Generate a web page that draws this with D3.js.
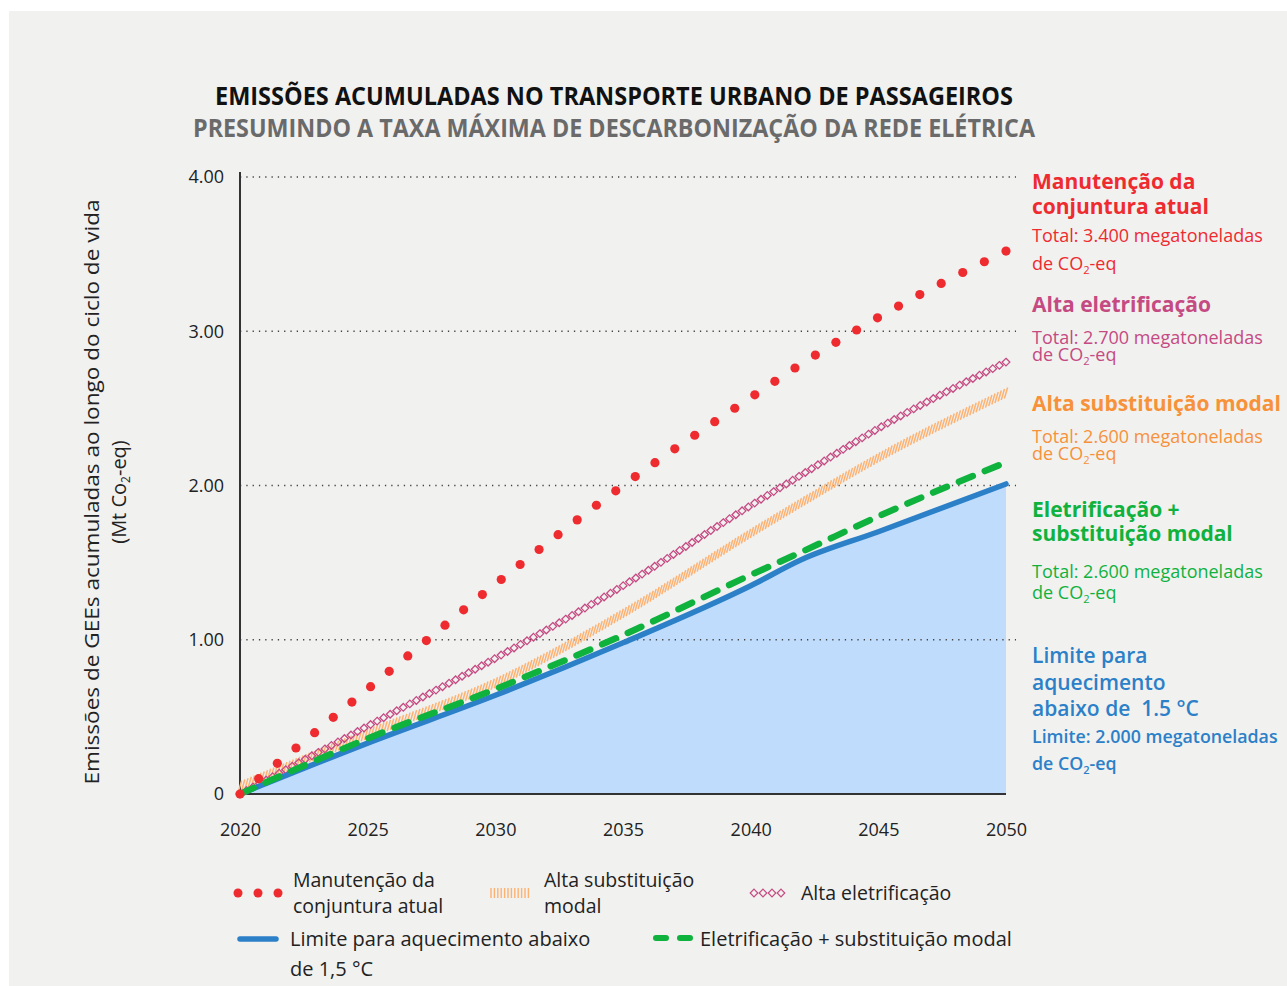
<!DOCTYPE html>
<html>
<head>
<meta charset="utf-8">
<script src="https://cdn.jsdelivr.net/npm/d3@7"></script>
<style>
    body { margin: 0; background: #fff; }
    svg { display: block; }
    text { font-family: "Open Sans", sans-serif; }
</style>
</head>
<body>
<svg width="1287" height="986"></svg>
<script>
"use strict";
// values (Mt CO2-eq, cumulative)
var years = [2020, 2025, 2030, 2035, 2040, 2042, 2045, 2050];
var manutencao = [0, 0.68, 1.36, 2.00, 2.57, 2.79, 3.09, 3.52];
var altaEletrificacao = [0, 0.44, 0.88, 1.35, 1.87, 2.07, 2.37, 2.80];
var altaSubstituicao = [0.05, 0.39, 0.72, 1.17, 1.69, 1.89, 2.18, 2.60];
var eletrSubst = [0, 0.36, 0.68, 1.03, 1.42, 1.57, 1.80, 2.15];
var limite = [0, 0.33, 0.64, 0.98, 1.35, 1.52, 1.70, 2.01];
var yTicks = [0, 1, 2, 3, 4];
var xTicks = [2020, 2025, 2030, 2035, 2040, 2045, 2050];

var red = "#ee2b2f", pink = "#c54a82", orange = "#f7923a", orangeLine = "#fdb272",
    green = "#10b23e", blue = "#2b80c8", areaFill = "#bfdcfc", ink = "#222";

var svg = d3.select("svg");

svg.append("rect").attr("x", 9).attr("y", 11).attr("width", 1278).attr("height", 975)
    .attr("fill", "#f1f1f0");

var x = d3.scaleLinear().domain([2020, 2050]).range([240, 1006]),
    y = d3.scaleLinear().domain([0, 4]).range([794, 177]);

function series(vals) {
    return years.map(function (yr, i) { return { year: yr, v: vals[i] }; });
}
var line = d3.line()
    .x(function (d) { return x(d.year); })
    .y(function (d) { return y(d.v); })
    .curve(d3.curveMonotoneX);
var area = d3.area()
    .x(function (d) { return x(d.year); })
    .y0(y(0))
    .y1(function (d) { return y(d.v); })
    .curve(d3.curveMonotoneX);

// titles
svg.append("text").attr("x", 614).attr("y", 105).attr("text-anchor", "middle")
    .attr("font-family", "Roboto").attr("font-weight", 700).attr("font-size", 25)
    .attr("textLength", 798).attr("lengthAdjust", "spacingAndGlyphs").attr("fill", "#111")
    .text("EMISSÕES ACUMULADAS NO TRANSPORTE URBANO DE PASSAGEIROS");
svg.append("text").attr("x", 614).attr("y", 137).attr("text-anchor", "middle")
    .attr("font-family", "Roboto").attr("font-weight", 700).attr("font-size", 25)
    .attr("textLength", 842).attr("lengthAdjust", "spacingAndGlyphs").attr("fill", "#6a6a6a")
    .text("PRESUMINDO A TAXA MÁXIMA DE DESCARBONIZAÇÃO DA REDE ELÉTRICA");

// blue area under limit
svg.append("path").datum(series(limite)).attr("d", area).attr("fill", areaFill);

// grid
svg.append("g").selectAll("line").data(yTicks.filter(function (d) { return d > 0; }))
    .enter().append("line")
    .attr("x1", 240).attr("x2", 1016)
    .attr("y1", function (d) { return y(d); }).attr("y2", function (d) { return y(d); })
    .attr("stroke", "#444").attr("stroke-width", 1.5).attr("stroke-dasharray", "1.3 5");

// axes
var yAxis = svg.append("g").attr("transform", "translate(240,0)")
    .call(d3.axisLeft(y).tickValues(yTicks).tickSize(0).tickPadding(16)
        .tickFormat(function (d) { return d === 0 ? "0" : d.toFixed(2); }));
yAxis.select(".domain").remove();
yAxis.selectAll("text").attr("font-family", "Open Sans").attr("font-size", 18).attr("fill", ink);

var xAxis = svg.append("g").attr("transform", "translate(0,794)")
    .call(d3.axisBottom(x).tickValues(xTicks).tickSize(0).tickPadding(29).tickFormat(d3.format("d")));
xAxis.select(".domain").remove();
xAxis.selectAll("text").attr("font-family", "Open Sans").attr("font-size", 18)
    .attr("font-weight", 500).attr("fill", ink);

svg.append("line").attr("x1", 240).attr("x2", 240).attr("y1", 172).attr("y2", 795)
    .attr("stroke", "#333").attr("stroke-width", 2);
svg.append("line").attr("x1", 239).attr("x2", 1006).attr("y1", 794).attr("y2", 794)
    .attr("stroke", "#333").attr("stroke-width", 2);

// hidden guide paths used to place the patterned marks
function guide(vals) {
    return svg.append("path").datum(series(vals)).attr("d", line)
        .attr("fill", "none").attr("stroke", "none");
}
function samplePath(p, step) {
    var node = p.node(), len = node.getTotalLength(), pts = [];
    var n = Math.round(len / step), s = len / n;
    for (var i = 0; i <= n; i++) pts.push(node.getPointAtLength(i * s));
    return pts;
}

// orange hatch (Alta substituição modal)
var orangePts = samplePath(guide(altaSubstituicao), 3.5);
svg.append("g").selectAll("line").data(orangePts).enter().append("line")
    .attr("x1", function (d) { return d.x + 1.6; }).attr("y1", function (d) { return d.y - 5.5; })
    .attr("x2", function (d) { return d.x - 1.6; }).attr("y2", function (d) { return d.y + 5.5; })
    .attr("stroke", orangeLine).attr("stroke-width", 1.5);

// pink diamonds (Alta eletrificação)
var diamond = "M0,-3.8L3.8,0L0,3.8L-3.8,0Z";
var pinkPts = samplePath(guide(altaEletrificacao), 7.4);
svg.append("g").selectAll("path").data(pinkPts).enter().append("path")
    .attr("d", diamond)
    .attr("transform", function (d) { return "translate(" + d.x + "," + d.y + ")"; })
    .attr("fill", "none").attr("stroke", pink).attr("stroke-width", 1.3);

// blue limit line
svg.append("path").datum(series(limite)).attr("d", line)
    .attr("fill", "none").attr("stroke", blue).attr("stroke-width", 5.5)
    .attr("stroke-linecap", "round");

// green dashed
svg.append("path").datum(series(eletrSubst)).attr("d", line)
    .attr("fill", "none").attr("stroke", green).attr("stroke-width", 6.5)
    .attr("stroke-dasharray", "15 13").attr("stroke-linecap", "round");

// red dotted: one dot at each end, even spacing between
var redPts = samplePath(guide(manutencao), 24.3);
svg.append("g").selectAll("circle").data(redPts).enter().append("circle")
    .attr("cx", function (d) { return d.x; }).attr("cy", function (d) { return d.y; })
    .attr("r", 4.6).attr("fill", red);

// y axis title
var yt = svg.append("g").attr("transform", "translate(0,492)");
yt.append("text").attr("transform", "translate(99,0) rotate(-90)").attr("text-anchor", "middle")
    .attr("font-size", 20).attr("fill", ink)
    .attr("textLength", 585).attr("lengthAdjust", "spacingAndGlyphs")
    .text("Emissões de GEEs acumuladas ao longo do ciclo de vida");
var yt2 = yt.append("text").attr("transform", "translate(126,0) rotate(-90)").attr("text-anchor", "middle")
    .attr("font-size", 20).attr("fill", ink);
yt2.append("tspan").text("(Mt Co");
yt2.append("tspan").attr("font-size", 12).attr("dy", 4).text("2");
yt2.append("tspan").attr("dy", -4).text("-eq)");

// right-hand annotations
function label(xp, yp, txt, color, size, weight) {
    return svg.append("text").attr("x", xp).attr("y", yp).attr("fill", color)
        .attr("font-size", size).attr("font-weight", weight).text(txt);
}
function coLabel(xp, yp, color, size, weight) {
    var t = svg.append("text").attr("x", xp).attr("y", yp).attr("fill", color)
        .attr("font-size", size).attr("font-weight", weight);
    t.append("tspan").text("de CO");
    t.append("tspan").attr("font-size", size * 0.62).attr("dy", 4).text("2");
    t.append("tspan").attr("dy", -4).text("-eq");
}
var ax = 1032;
label(ax, 189, "Manutenção da", red, 21, 700);
label(ax, 214, "conjuntura atual", red, 21, 700);
label(ax, 242, "Total: 3.400 megatoneladas", red, 18, 400);
coLabel(ax, 270, red, 18, 400);

label(ax, 312, "Alta eletrificação", pink, 21, 700);
label(ax, 344, "Total: 2.700 megatoneladas", pink, 18, 400);
coLabel(ax, 361, pink, 18, 400);

label(ax, 411, "Alta substituição modal", orange, 21, 700);
label(ax, 443, "Total: 2.600 megatoneladas", orange, 18, 400);
coLabel(ax, 460, orange, 18, 400);

label(ax, 517, "Eletrificação +", green, 21, 700);
label(ax, 541, "substituição modal", green, 21, 700);
label(ax, 578, "Total: 2.600 megatoneladas", green, 18, 400);
coLabel(ax, 599, green, 18, 400);

label(ax, 663, "Limite para", blue, 21, 600);
label(ax, 690, "aquecimento", blue, 21, 600);
label(ax, 716, "abaixo de  1.5 °C", blue, 21, 600).style("white-space", "pre");
label(ax, 743, "Limite: 2.000 megatoneladas", blue, 17.8, 600);
coLabel(ax, 770, blue, 17.8, 600);

// legend
var lg = svg.append("g");
lg.selectAll("circle").data([238, 258, 278]).enter().append("circle")
    .attr("cx", function (d) { return d; }).attr("cy", 893).attr("r", 4.5).attr("fill", red);
label(293, 887, "Manutenção da", ink, 19.5, 400);
label(293, 913, "conjuntura atual", ink, 19.5, 400);

lg.selectAll("line.hatch").data(d3.range(491, 531, 3.4)).enter().append("line")
    .attr("class", "hatch")
    .attr("x1", function (d) { return d; }).attr("x2", function (d) { return d; })
    .attr("y1", 888).attr("y2", 898)
    .attr("stroke", orangeLine).attr("stroke-width", 1.4);
label(544, 887, "Alta substituição", ink, 19.5, 400);
label(544, 913, "modal", ink, 19.5, 400);

lg.selectAll("path.dia").data([754, 763, 772, 781]).enter().append("path")
    .attr("class", "dia").attr("d", diamond)
    .attr("transform", function (d) { return "translate(" + d + ",893)"; })
    .attr("fill", "none").attr("stroke", pink).attr("stroke-width", 1.2);
label(801, 900, "Alta eletrificação", ink, 19.5, 400);

lg.append("line").attr("x1", 240).attr("x2", 276).attr("y1", 939).attr("y2", 939)
    .attr("stroke", blue).attr("stroke-width", 5.5).attr("stroke-linecap", "round");
label(290, 946, "Limite para aquecimento abaixo", ink, 20, 400);
label(290, 976, "de 1,5 °C", ink, 20, 400);

lg.append("line").attr("x1", 656).attr("x2", 690).attr("y1", 938).attr("y2", 938)
    .attr("stroke", green).attr("stroke-width", 6).attr("stroke-dasharray", "10 14")
    .attr("stroke-linecap", "round");
label(700, 946, "Eletrificação + substituição modal", ink, 20, 400);
</script>
</body>
</html>
